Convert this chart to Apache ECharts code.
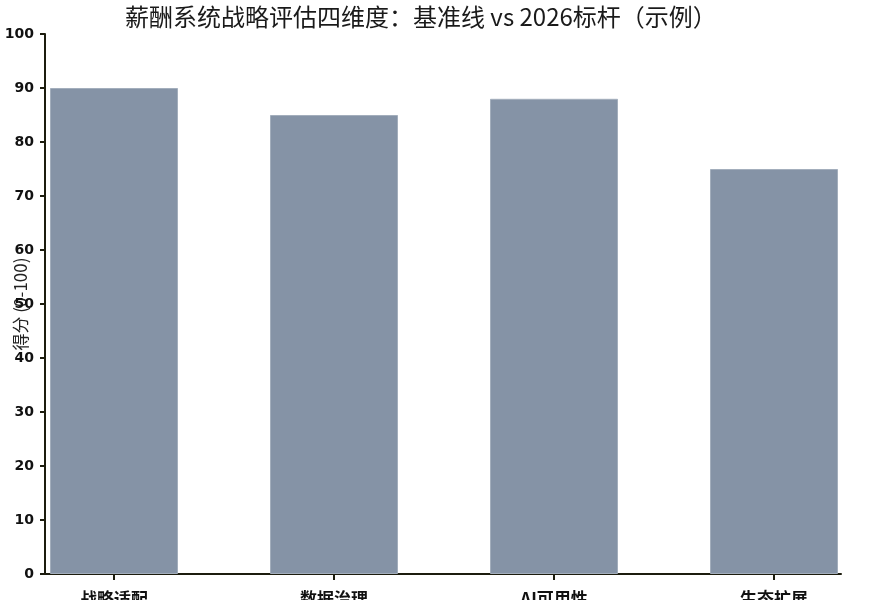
<!DOCTYPE html>
<html><head><meta charset="utf-8">
<script src="https://cdn.jsdelivr.net/npm/echarts@6/dist/echarts.min.js"></script>
<style>html,body{margin:0;padding:0;background:#fff}#c{width:875px;height:609px}</style>
</head><body><div id="c"></div>
<script>
const categories = ['战略适配', '数据治理', 'AI可用性', '生态扩展'];
const baselineScores = [90, 85, 88, 75];
const titleText = '薪酬系统战略评估四维度：基准线 vs 2026标杆（示例）';
const yAxisName = '得分 (0-100)';

const chart = echarts.init(document.getElementById('c'));
const axisColor = '#1c1c0e';
chart.setOption({
  animation: false,
  title: {
    text: titleText, left: 120, top: 0,
    textStyle: { fontFamily: 'Noto Sans CJK SC', fontSize: 24, fontWeight: 'normal', color: '#1a1a1a' }
  },
  grid: [
    { left: 4, right: -9, top: 34, bottom: 35, outerBoundsMode: 'none', containLabel: false },
    { left: 45, right: 34, top: 34, bottom: 35, outerBoundsMode: 'none', containLabel: false }
  ],
  xAxis: [
    { type: 'category', gridIndex: 0, data: categories, offset: 3,
      axisLine: { show: false },
      axisTick: { show: true, alignWithLabel: true, length: 6, lineStyle: { color: axisColor, width: 2 } },
      axisLabel: { margin: 13, fontSize: 17, fontWeight: 'bold', color: '#111', fontFamily: 'Noto Sans CJK SC' }
    },
    { type: 'value', gridIndex: 1, min: 0, max: 1, offset: 3,
      axisLine: { show: true, lineStyle: { color: axisColor, width: 2 } },
      axisTick: { show: false }, axisLabel: { show: false }, splitLine: { show: false }
    }
  ],
  yAxis: [
    { type: 'value', gridIndex: 0, min: 0, max: 100, show: false },
    { type: 'value', gridIndex: 1, min: 0, max: 100, interval: 10,
      name: yAxisName, nameLocation: 'middle', nameGap: 16, nameMoveOverlap: false,
      nameTextStyle: { fontSize: 17, color: '#222', fontFamily: 'Noto Sans CJK SC' },
      axisLine: { show: true, lineStyle: { color: axisColor, width: 2 } },
      axisTick: { show: true, length: 5, lineStyle: { color: axisColor, width: 2 } },
      axisLabel: { margin: 11, fontSize: 14, fontWeight: 'bold', color: '#111', fontFamily: 'DejaVu Sans' },
      splitLine: { show: false }
    }
  ],
  graphic: [{ type: 'rect', z: 100, shape: { x: 0, y: 600, width: 875, height: 9 }, style: { fill: '#fff' } }],
  series: [{
    type: 'bar', xAxisIndex: 0, yAxisIndex: 0, data: baselineScores,
    barWidth: 128,
    itemStyle: { color: '#8593a6', borderColor: '#a3aebc', borderWidth: 1 }
  }]
});
</script></body></html>
